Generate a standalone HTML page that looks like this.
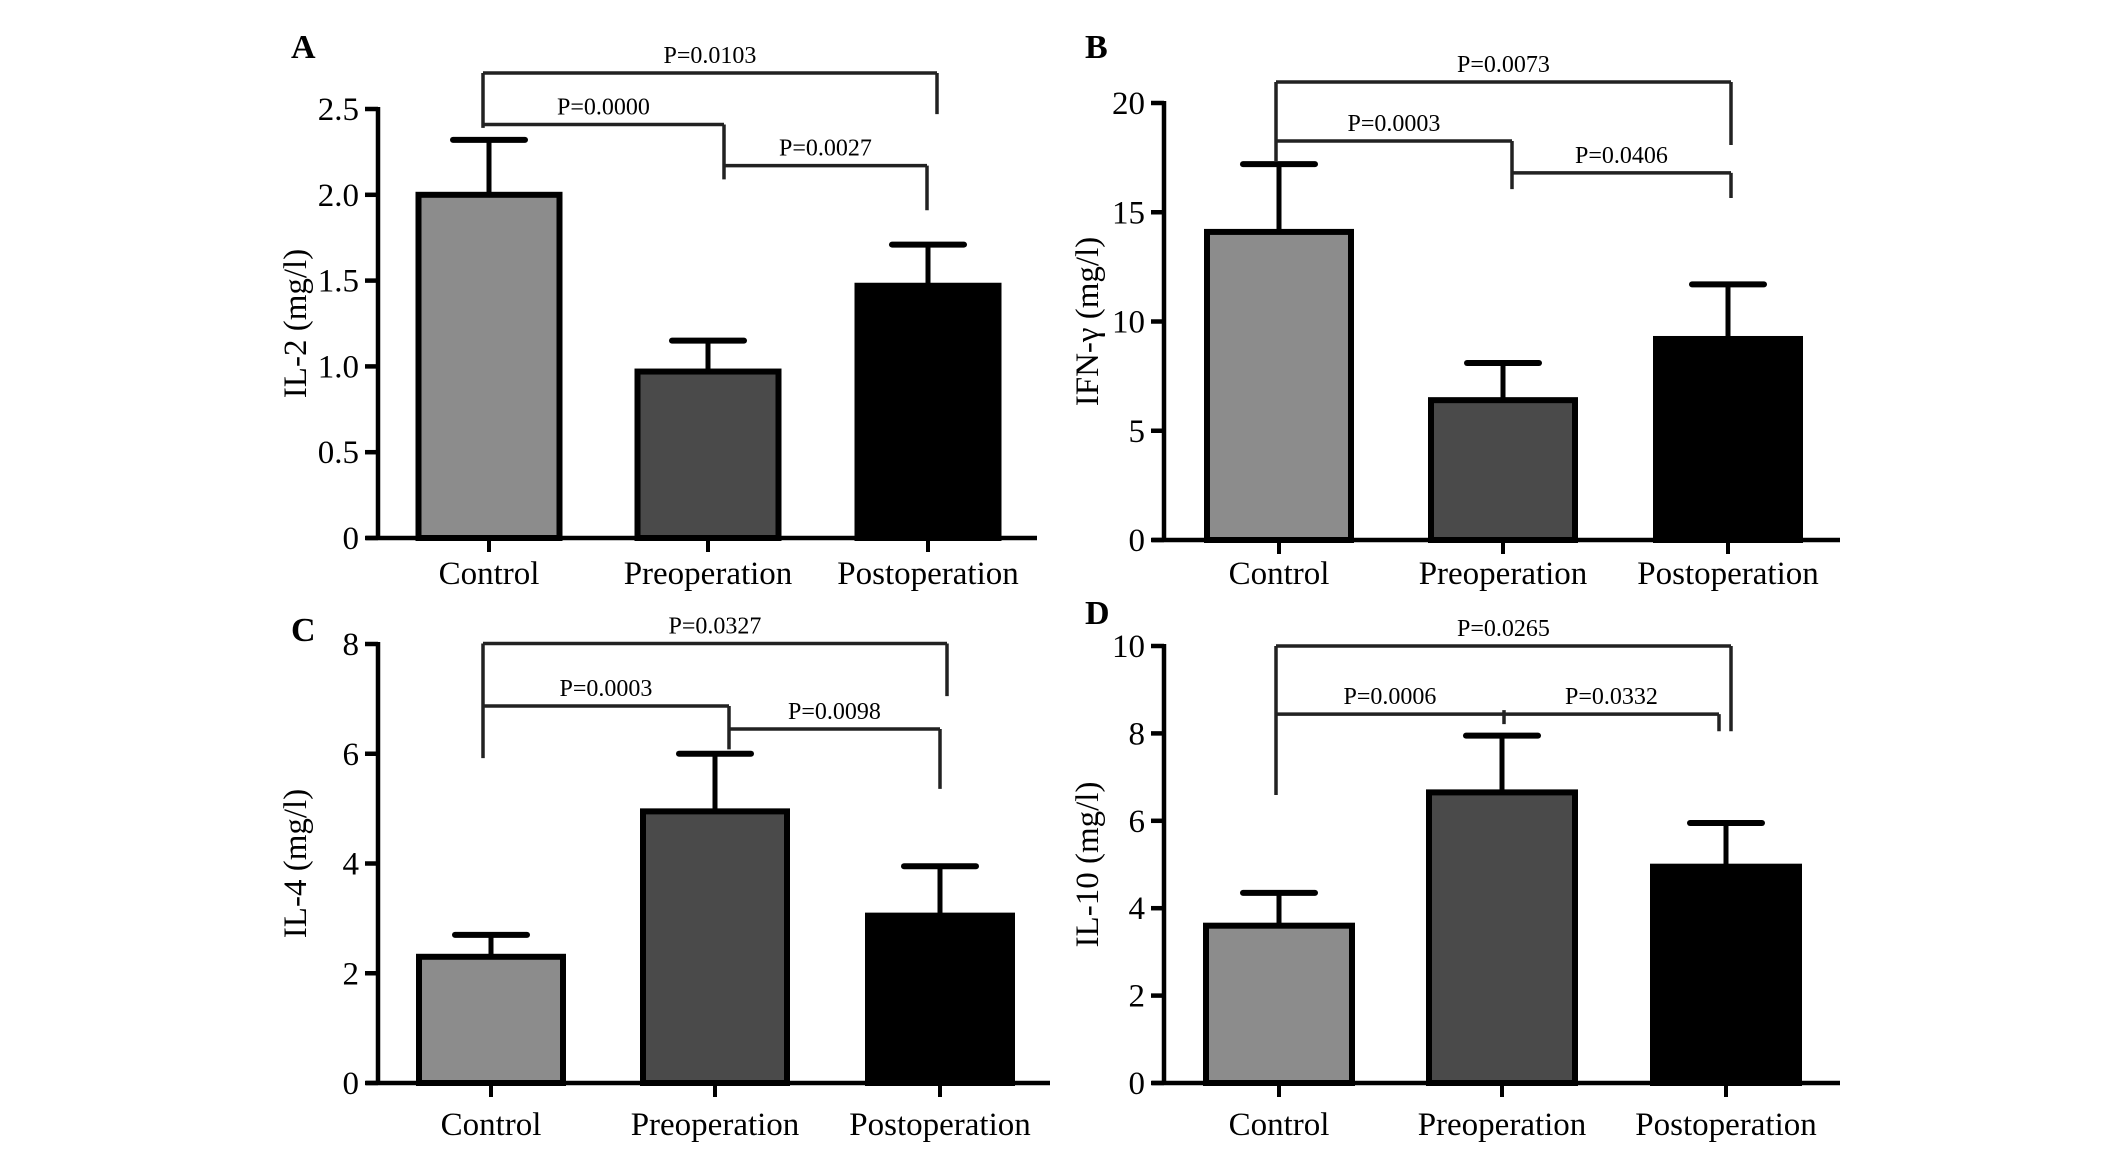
<!DOCTYPE html>
<html><head><meta charset="utf-8"><style>
html,body{margin:0;padding:0;background:#fff;}
svg{display:block;font-family:"Liberation Serif",serif;}
</style></head><body>
<svg id="fig" width="2126" height="1155" viewBox="0 0 2126 1155" xmlns="http://www.w3.org/2000/svg"></svg>
<script>
// ---- data ----
const categories = ["Control", "Preoperation", "Postoperation"];
const il2Values = [2.0, 0.97, 1.47];
const il2Errors = [2.32, 1.15, 1.71];
const il2Ticks = ["0", "0.5", "1.0", "1.5", "2.0", "2.5"];
const ifnValues = [14.1, 6.4, 9.2];
const ifnErrors = [17.2, 8.1, 11.7];
const ifnTicks = ["0", "5", "10", "15", "20"];
const il4Values = [2.3, 4.95, 3.05];
const il4Errors = [2.7, 6.0, 3.95];
const il4Ticks = ["0", "2", "4", "6", "8"];
const il10Values = [3.6, 6.65, 4.95];
const il10Errors = [4.35, 7.95, 5.95];
const il10Ticks = ["0", "2", "4", "6", "8", "10"];
const barColors = ["#8c8c8c", "#4a4a4a", "#000000"];
const pLabelsA = ["P=0.0103", "P=0.0000", "P=0.0027"];
const pLabelsB = ["P=0.0073", "P=0.0003", "P=0.0406"];
const pLabelsC = ["P=0.0327", "P=0.0003", "P=0.0098"];
const pLabelsD = ["P=0.0265", "P=0.0006", "P=0.0332"];

const NS = "http://www.w3.org/2000/svg";
const svg = document.getElementById("fig");
function mk(tag, attrs, parent, text) {
  const e = document.createElementNS(NS, tag);
  for (const k in attrs) e.setAttribute(k, attrs[k]);
  if (text !== undefined) e.textContent = text;
  (parent || svg).appendChild(e);
  return e;
}

const panels = [
  {id:"a", letter:"A", lx:291, ly:58, title:"IL-2 (mg/l)", titleX:296, ax:378, y0:538, yTop:109, yMax:2.5, xEnd:1037,
   centers:[489,708,928], bw:147, vals:il2Values, errs:il2Errors, ticks:il2Ticks, labY:584, p:pLabelsA,
   br:[
    {x1:483,x2:937,lvl:2.71,dl:2.39,dr:2.47,text:0},
    {x1:483,x2:724,lvl:2.41,dl:null,dr:2.09,text:1},
    {x1:724,x2:927,lvl:2.17,dl:null,dr:1.91,text:2}]},
  {id:"b", letter:"B", lx:1085, ly:58, title:"IFN-γ (mg/l)", titleX:1088, ax:1164, y0:540, yTop:103, yMax:20, xEnd:1840,
   centers:[1279,1503,1728], bw:150, vals:ifnValues, errs:ifnErrors, ticks:ifnTicks, labY:584, p:pLabelsB,
   br:[
    {x1:1276,x2:1731,lvl:20.96,dl:17.3,dr:18.08,text:0},
    {x1:1276,x2:1512,lvl:18.26,dl:null,dr:16.06,text:1},
    {x1:1512,x2:1731,lvl:16.8,dl:null,dr:15.65,text:2}]},
  {id:"c", letter:"C", lx:291, ly:641, title:"IL-4 (mg/l)", titleX:296, ax:378, y0:1083, yTop:644, yMax:8, xEnd:1050,
   centers:[491,715,940], bw:150, vals:il4Values, errs:il4Errors, ticks:il4Ticks, labY:1135, p:pLabelsC,
   br:[
    {x1:483,x2:947,lvl:8.01,dl:5.92,dr:7.05,text:0},
    {x1:483,x2:729,lvl:6.87,dl:null,dr:6.08,text:1},
    {x1:729,x2:940,lvl:6.45,dl:null,dr:5.36,text:2}]},
  {id:"d", letter:"D", lx:1085, ly:624, title:"IL-10 (mg/l)", titleX:1088, ax:1164, y0:1083, yTop:646, yMax:10, xEnd:1840,
   centers:[1279,1502,1726], bw:152, vals:il10Values, errs:il10Errors, ticks:il10Ticks, labY:1135, p:pLabelsD,
   br:[
    {x1:1276,x2:1731,lvl:10.0,dl:6.59,dr:8.05,text:0},
    {x1:1276,x2:1719,lvl:8.44,dl:null,dr:8.05,text:null,split:[1,2],mid:1504}]}
];

panels.forEach(P => {
  const g = mk("g", {});
  
  
  const yS = v => P.y0 - (v / P.yMax) * (P.y0 - P.yTop);

  const lt = mk("text", {x:P.lx, y:P.ly, "font-size":34, "font-weight":"bold"}, g, P.letter);
  
  

  const yc = (P.y0 + P.yTop) / 2;
  const yt = mk("text", {x:P.titleX, y:yc, "font-size":33, "text-anchor":"middle",
    "dominant-baseline":"central", transform:`rotate(-90 ${P.titleX} ${yc})`}, g, P.title);
  
  

  P.vals.forEach((v, i) => {
    const cx = P.centers[i];
    const et = yS(P.errs[i]);
    const el = mk("line", {x1:cx, x2:cx, y1:yS(v), y2:et, stroke:"#000", "stroke-width":5}, g);
    
    
    const cap = mk("line", {x1:cx-36, x2:cx+36, y1:et, y2:et, stroke:"#000", "stroke-width":6, "stroke-linecap":"round"}, g);
    
    
    const r = mk("rect", {x:cx-P.bw/2+3, y:yS(v), width:P.bw-6, height:P.y0-yS(v), fill:barColors[i], stroke:"#000", "stroke-width":6}, g);
    
    
    const tk = mk("line", {x1:cx, x2:cx, y1:P.y0, y2:P.y0+14, stroke:"#000", "stroke-width":4}, g);
    
    
    const xl = mk("text", {x:cx, y:P.labY, "font-size":33, "text-anchor":"middle"}, g, categories[i]);
    
    
  });

  const ya = mk("line", {x1:P.ax, x2:P.ax, y1:P.yTop-2, y2:P.y0+2, stroke:"#000", "stroke-width":4.5}, g);
  
  
  const xa = mk("line", {x1:P.ax-12, x2:P.xEnd, y1:P.y0, y2:P.y0, stroke:"#000", "stroke-width":4.5}, g);
  
  
  const n = P.ticks.length - 1;
  P.ticks.forEach((t, i) => {
    const y = yS(P.yMax * i / n);
    const tl = mk("line", {x1:P.ax-13, x2:P.ax, y1:y, y2:y, stroke:"#000", "stroke-width":4.5}, g);
    
    
    const tt = mk("text", {x:P.ax-19, y:y+11, "font-size":33, "text-anchor":"end"}, g, t);
    
    
  });

  P.br.forEach(b => {
    const ly = yS(b.lvl);
    let d = `M${b.x1} ${ly} H${b.x2}`;
    if (b.dl !== null) d += ` M${b.x1} ${yS(b.dl)} V${ly}`;
    if (b.dr !== null) d += ` M${b.x2} ${ly} V${yS(b.dr)}`;
    if (b.mid) d += ` M${b.mid} ${ly-4} V${ly+10}`;
    const pth = mk("path", {d:d, fill:"none", stroke:"#222", "stroke-width":3.5}, g);
    
    
    if (b.text !== null) {
      const tx = mk("text", {x:(b.x1+b.x2)/2, y:ly-10, "font-size":24, "text-anchor":"middle"}, g, P.p[b.text]);
      
      
    } else {
      const t1 = mk("text", {x:(b.x1+b.mid)/2, y:ly-10, "font-size":24, "text-anchor":"middle"}, g, P.p[b.split[0]]);
      
      
      const t2 = mk("text", {x:(b.mid+b.x2)/2, y:ly-10, "font-size":24, "text-anchor":"middle"}, g, P.p[b.split[1]]);
      
      
    }
  });
});
</script>
</body></html>
